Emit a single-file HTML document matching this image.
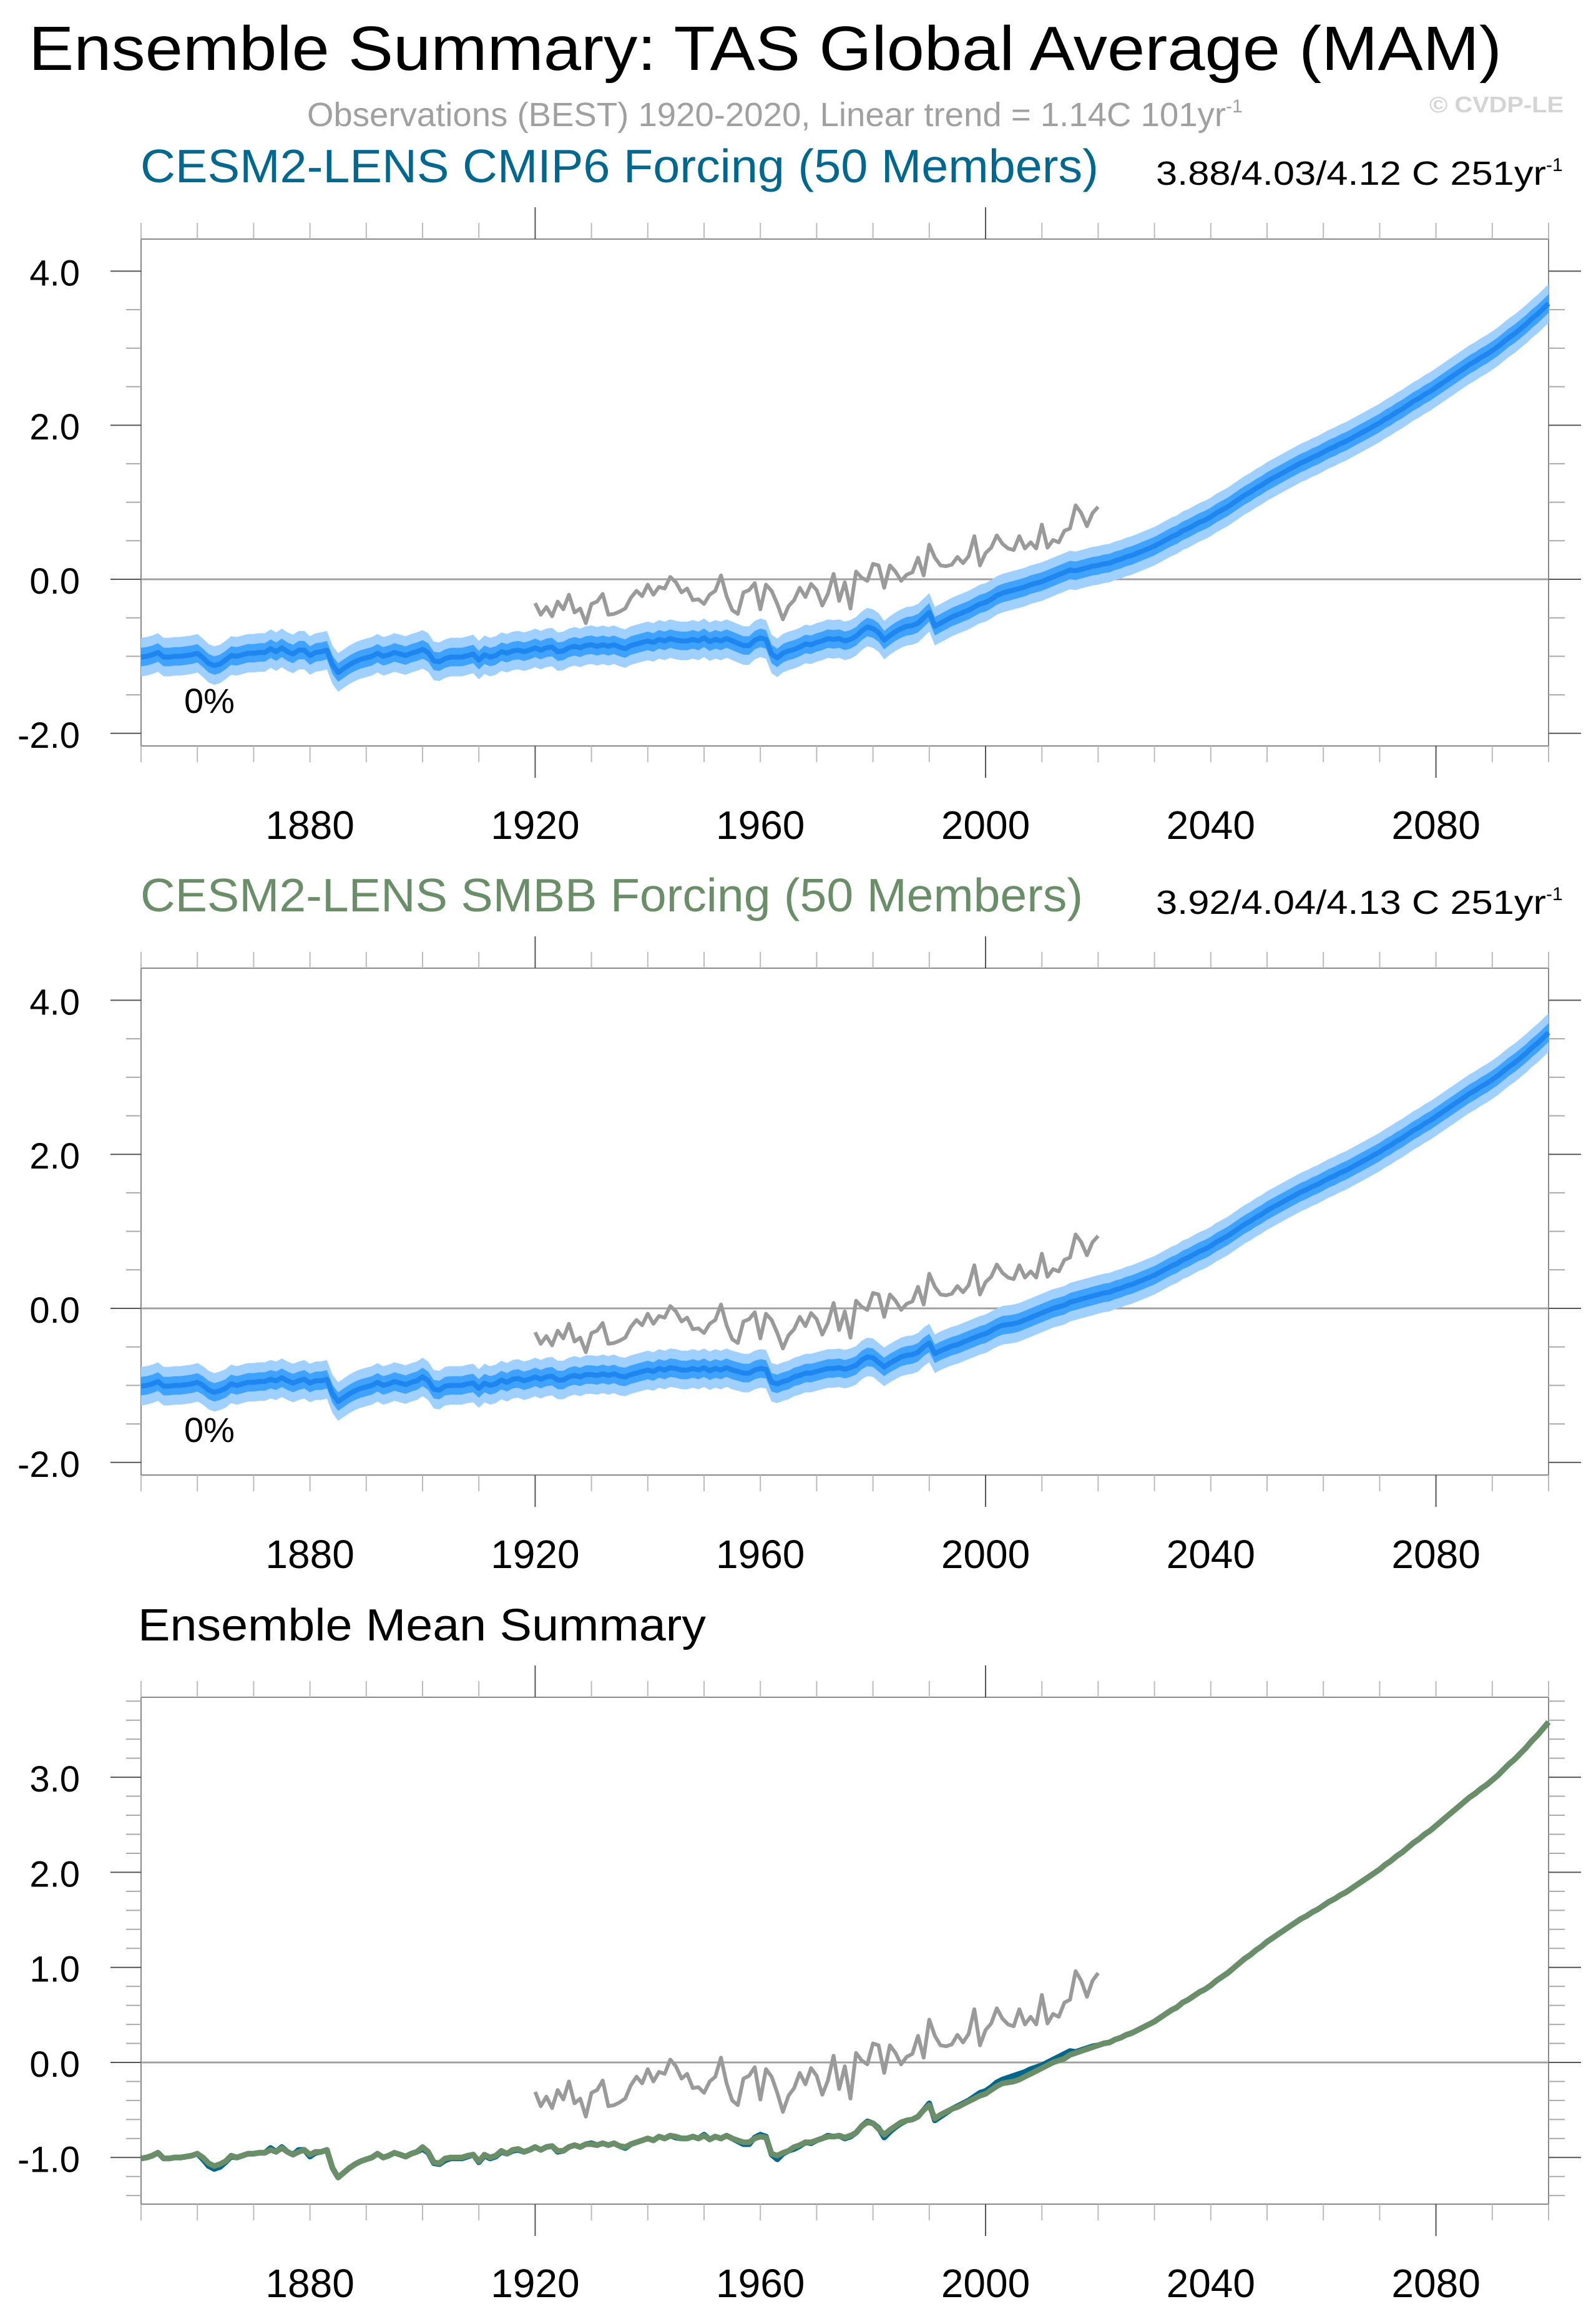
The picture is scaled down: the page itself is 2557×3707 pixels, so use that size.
<!DOCTYPE html>
<html><head><meta charset="utf-8"><style>
html,body{margin:0;padding:0;background:#fff;}
svg{display:block;font-family:"Liberation Sans",sans-serif;}
</style></head><body>
<svg id="chart" xmlns="http://www.w3.org/2000/svg" width="2557" height="3707" viewBox="0 0 2557 3707">
<rect width="2557" height="3707" fill="#fff"/>
<text x="46" y="112" font-size="100" textLength="2360" lengthAdjust="spacingAndGlyphs">Ensemble Summary: TAS Global Average (MAM)</text>
<text x="492" y="202" font-size="54" fill="#a0a0a0"><tspan textLength="1472" lengthAdjust="spacingAndGlyphs">Observations (BEST) 1920-2020, Linear trend = 1.14C 101yr</tspan><tspan font-size="30" dy="-22">-1</tspan></text>
<text x="2290" y="180" font-size="36" font-weight="bold" fill="#d4d4d4" textLength="215" lengthAdjust="spacingAndGlyphs">© CVDP-LE</text>
<g id="plots"></g>
</svg>
<script>
const years = [];
for (let y = 1850; y <= 2100; y++) years.push(y);
const obsYears = [];
for (let y = 1920; y <= 2020; y++) obsYears.push(y);

const cmip6Mean = [-1.01,-1.00,-0.98,-0.95,-1.01,-1.01,-1.00,-1.00,-0.99,-0.98,-0.96,-1.02,-1.09,-1.12,-1.10,-1.05,-0.99,-1.00,-0.98,-0.96,-0.96,-0.95,-0.95,-0.90,-0.94,-0.89,-0.94,-0.97,-0.92,-0.92,-0.99,-0.95,-0.94,-0.92,-1.11,-1.21,-1.16,-1.11,-1.07,-1.04,-1.02,-1.00,-0.96,-1.00,-0.98,-0.95,-0.97,-0.99,-0.96,-0.94,-0.91,-0.95,-1.06,-1.07,-1.03,-1.01,-1.01,-1.01,-0.99,-0.97,-1.05,-0.98,-1.01,-0.99,-0.94,-0.96,-0.93,-0.92,-0.94,-0.92,-0.89,-0.92,-0.89,-0.88,-0.94,-0.93,-0.89,-0.87,-0.89,-0.86,-0.85,-0.87,-0.85,-0.87,-0.85,-0.88,-0.90,-0.86,-0.84,-0.82,-0.80,-0.82,-0.78,-0.80,-0.77,-0.79,-0.80,-0.80,-0.78,-0.80,-0.76,-0.81,-0.78,-0.80,-0.77,-0.80,-0.83,-0.86,-0.86,-0.79,-0.76,-0.78,-0.97,-1.02,-0.96,-0.93,-0.91,-0.88,-0.84,-0.85,-0.82,-0.80,-0.77,-0.78,-0.77,-0.80,-0.78,-0.74,-0.67,-0.62,-0.64,-0.69,-0.79,-0.73,-0.68,-0.64,-0.61,-0.60,-0.57,-0.50,-0.43,-0.61,-0.57,-0.53,-0.49,-0.46,-0.43,-0.40,-0.36,-0.32,-0.30,-0.26,-0.21,-0.18,-0.16,-0.14,-0.12,-0.10,-0.07,-0.05,-0.03,0.00,0.03,0.06,0.09,0.12,0.11,0.13,0.15,0.17,0.18,0.20,0.21,0.24,0.26,0.29,0.31,0.34,0.37,0.40,0.43,0.47,0.51,0.55,0.58,0.63,0.66,0.70,0.74,0.77,0.81,0.86,0.90,0.94,0.99,1.04,1.09,1.13,1.18,1.22,1.27,1.31,1.35,1.39,1.43,1.47,1.51,1.54,1.58,1.61,1.65,1.69,1.72,1.76,1.79,1.83,1.87,1.91,1.95,1.99,2.03,2.08,2.12,2.17,2.21,2.26,2.31,2.35,2.40,2.44,2.49,2.54,2.59,2.64,2.69,2.74,2.79,2.83,2.88,2.92,2.97,3.02,3.08,3.14,3.19,3.25,3.31,3.38,3.44,3.51,3.58];

const smbbMean = [-1.01,-1.00,-0.98,-0.95,-1.01,-1.01,-1.00,-1.00,-0.99,-0.98,-0.96,-1.00,-1.06,-1.09,-1.07,-1.04,-0.98,-1.00,-0.98,-0.96,-0.96,-0.95,-0.95,-0.92,-0.94,-0.90,-0.94,-0.97,-0.94,-0.92,-0.97,-0.94,-0.94,-0.92,-1.11,-1.21,-1.16,-1.11,-1.07,-1.04,-1.02,-1.00,-0.96,-1.00,-0.98,-0.95,-0.97,-0.99,-0.96,-0.94,-0.89,-0.94,-1.05,-1.06,-1.01,-1.00,-1.00,-1.00,-0.98,-0.97,-1.04,-0.97,-1.00,-0.98,-0.93,-0.96,-0.92,-0.91,-0.94,-0.92,-0.89,-0.92,-0.89,-0.88,-0.93,-0.93,-0.89,-0.87,-0.89,-0.86,-0.86,-0.87,-0.85,-0.87,-0.85,-0.88,-0.89,-0.86,-0.84,-0.82,-0.80,-0.82,-0.78,-0.80,-0.77,-0.78,-0.80,-0.80,-0.78,-0.80,-0.77,-0.81,-0.78,-0.80,-0.77,-0.80,-0.82,-0.84,-0.84,-0.80,-0.78,-0.79,-0.96,-0.98,-0.95,-0.93,-0.89,-0.87,-0.84,-0.84,-0.82,-0.80,-0.78,-0.78,-0.77,-0.79,-0.77,-0.74,-0.67,-0.63,-0.64,-0.70,-0.76,-0.71,-0.67,-0.63,-0.61,-0.60,-0.57,-0.50,-0.45,-0.59,-0.55,-0.52,-0.49,-0.47,-0.44,-0.41,-0.38,-0.35,-0.33,-0.29,-0.25,-0.22,-0.21,-0.20,-0.18,-0.15,-0.12,-0.09,-0.06,-0.03,0.00,0.02,0.04,0.08,0.10,0.12,0.14,0.16,0.18,0.20,0.21,0.24,0.26,0.29,0.31,0.34,0.37,0.40,0.43,0.47,0.51,0.55,0.58,0.63,0.66,0.70,0.74,0.77,0.81,0.86,0.90,0.94,0.99,1.04,1.09,1.13,1.18,1.22,1.27,1.31,1.35,1.39,1.43,1.47,1.51,1.54,1.58,1.61,1.65,1.69,1.72,1.76,1.79,1.83,1.87,1.91,1.95,1.99,2.03,2.08,2.12,2.17,2.21,2.26,2.31,2.35,2.40,2.44,2.49,2.54,2.59,2.64,2.69,2.74,2.79,2.83,2.88,2.92,2.97,3.02,3.08,3.14,3.19,3.25,3.31,3.38,3.44,3.51,3.58];

const obsValues = [-0.31,-0.46,-0.36,-0.48,-0.29,-0.39,-0.20,-0.43,-0.38,-0.57,-0.32,-0.29,-0.19,-0.46,-0.45,-0.42,-0.38,-0.24,-0.15,-0.22,-0.07,-0.20,-0.10,-0.12,0.03,-0.04,-0.17,-0.12,-0.27,-0.26,-0.32,-0.20,-0.15,0.05,-0.22,-0.40,-0.45,-0.17,-0.14,-0.05,-0.39,-0.07,-0.15,-0.32,-0.52,-0.35,-0.27,-0.11,-0.23,-0.06,-0.14,-0.34,-0.19,0.07,-0.28,-0.04,-0.38,0.10,0.02,-0.02,0.20,0.18,-0.11,0.18,0.10,-0.02,0.06,0.09,0.28,0.05,0.45,0.28,0.18,0.17,0.19,0.29,0.21,0.30,0.56,0.18,0.34,0.41,0.57,0.46,0.40,0.38,0.56,0.40,0.48,0.40,0.71,0.41,0.51,0.48,0.63,0.66,0.96,0.86,0.69,0.86,0.94];

const innerSpread = 0.12;
const outerSpread = 0.25;
const xTickLabels = [1880, 1920, 1960, 2000, 2040, 2080];
const yTicksTop = [4.0, 2.0, 0.0, -2.0];
const yTicksBottom = [3.0, 2.0, 1.0, 0.0, -1.0];

const NS = 'http://www.w3.org/2000/svg';
const root = document.getElementById('plots');
const X0 = 226, X1 = 2481;
function xScale(yr){ return X0 + (yr - 1850) * (X1 - X0) / 250; }
function mk(tag, attrs, parent){
  const e = document.createElementNS(NS, tag);
  for (const k in attrs) e.setAttribute(k, attrs[k]);
  (parent || root).appendChild(e);
  return e;
}
function linePath(xs, vs, ys){
  return xs.map((x,i)=>(i?'L':'M')+xScale(x).toFixed(1)+','+ys(vs[i]).toFixed(1)).join('');
}
function bandPath(xs, vs, d, ys){
  let p = xs.map((x,i)=>(i?'L':'M')+xScale(x).toFixed(1)+','+ys(vs[i]+d).toFixed(1)).join('');
  for (let i = xs.length-1; i >= 0; i--) p += 'L'+xScale(xs[i]).toFixed(1)+','+ys(vs[i]-d).toFixed(1);
  return p + 'Z';
}

function panel(idx, cfg){
  const off = idx * 1168;
  const top = 383 + off, bot = 1195 + off;
  const g = mk('g', {}, root);
  
  
  const ys = v => cfg.zero + off - v * cfg.unit;

  const t = mk('text', {x: cfg.titleX, y: cfg.titleY + off, 'font-size': cfg.titleSize, fill: cfg.titleColor, textLength: cfg.titleLen, lengthAdjust: 'spacingAndGlyphs'}, g);
  t.textContent = cfg.title;
  
  
  if (cfg.rightText){
    const r = mk('text', {x: 1852, y: 296 + off, 'font-size': 54}, g);
    
    
    const s1 = mk('tspan', {textLength: 625, lengthAdjust: 'spacingAndGlyphs'}, r);
    s1.textContent = cfg.rightText;
    const s2 = mk('tspan', {'font-size': 30, dy: -22}, r);
    s2.textContent = '-1';
  }

  const fr = mk('rect', {x: X0, y: top, width: X1 - X0, height: bot - top, fill: 'none', stroke: '#8a8a8a', 'stroke-width': 2}, g);
  
  

  for (let yr = 1850; yr <= 2100; yr += 10){
    const x = xScale(yr);
    const majTop = (yr === 1920 || yr === 2000);
    const majBot = (yr === 1920 || yr === 2000 || yr === 2080);
    mk('line', {x1: x, x2: x, y1: top, y2: majTop ? top - 51 : top - 26, stroke: majTop ? '#555' : '#bbb', 'stroke-width': 2}, g);
    mk('line', {x1: x, x2: x, y1: bot, y2: majBot ? bot + 51 : bot + 26, stroke: majBot ? '#555' : '#bbb', 'stroke-width': 2}, g);
  }
  xTickLabels.forEach(yr=>{
    const l = mk('text', {x: xScale(yr), y: 1344 + off, 'font-size': 64, 'text-anchor': 'middle'}, g);
    l.textContent = String(yr);
    
    
  });

  const vTop = (cfg.zero + off - top) / cfg.unit, vBot = (cfg.zero + off - bot) / cfg.unit;
  const steps = Math.round((vTop - vBot) / cfg.minor) + 2;
  const start = Math.ceil(vBot / cfg.minor) * cfg.minor;
  for (let i = 0; i < steps; i++){
    const v = +(start + i * cfg.minor).toFixed(3);
    if (v > vTop + 1e-6) break;
    const y = ys(v);
    const isMaj = cfg.ticks.some(m => Math.abs(m - v) < 1e-6);
    mk('line', {x1: X0, x2: isMaj ? X0 - 49 : X0 - 24, y1: y, y2: y, stroke: isMaj ? '#555' : '#aaa', 'stroke-width': 2}, g);
    mk('line', {x1: X1, x2: isMaj ? X1 + 52 : X1 + 26, y1: y, y2: y, stroke: isMaj ? '#555' : '#aaa', 'stroke-width': 2}, g);
  }
  cfg.ticks.forEach(v=>{
    const l = mk('text', {x: 128, y: ys(v) + 23, 'font-size': 58, 'text-anchor': 'end'}, g);
    l.textContent = v.toFixed(1);
    
    
  });

  const z = mk('line', {x1: X0, x2: X1, y1: ys(0), y2: ys(0), stroke: '#a0a0a0', 'stroke-width': 3}, g);
  
  

  if (cfg.mean){
    const ob = mk('path', {d: bandPath(years, cfg.mean, outerSpread, ys), fill: '#9fd0ff'}, g);
    
    
    const ib = mk('path', {d: bandPath(years, cfg.mean, innerSpread, ys), fill: '#3fa2ff'}, g);
    
    
    const ml = mk('path', {d: linePath(years, cfg.mean, ys), fill: 'none', stroke: '#1e86ee', 'stroke-width': 8, 'stroke-linejoin': 'round'}, g);
    
    
    const pc = mk('text', {x: 295, y: 1142 + off, 'font-size': 56}, g);
    pc.textContent = '0%';
    
    
  } else {
    const l1 = mk('path', {d: linePath(years, cmip6Mean, ys), fill: 'none', stroke: '#00668c', 'stroke-width': 9, 'stroke-linejoin': 'round'}, g);
    
    
    const l2 = mk('path', {d: linePath(years, smbbMean, ys), fill: 'none', stroke: '#6a8e68', 'stroke-width': 9, 'stroke-linejoin': 'round'}, g);
    
    
  }
  const obs = mk('path', {d: linePath(obsYears, obsValues, ys), fill: 'none', stroke: '#9a9a9a', 'stroke-width': 6, 'stroke-linejoin': 'round'}, g);
  
  
}

panel(0, {name: 'cmip6-panel', title: 'CESM2-LENS CMIP6 Forcing (50 Members)', titleColor: '#00688e', titleX: 225, titleY: 292, titleSize: 75, titleLen: 1535,
  rightText: '3.88/4.03/4.12 C 251yr', zero: 928, unit: 123.4, minor: 0.5, ticks: yTicksTop, mean: cmip6Mean});
panel(1, {name: 'smbb-panel', title: 'CESM2-LENS SMBB Forcing (50 Members)', titleColor: '#6a8e68', titleX: 225, titleY: 292, titleSize: 75, titleLen: 1510,
  rightText: '3.92/4.04/4.13 C 251yr', zero: 928, unit: 123.4, minor: 0.5, ticks: yTicksTop, mean: smbbMean});
panel(2, {name: 'ensemble-mean-panel', title: 'Ensemble Mean Summary', titleColor: '#000', titleX: 221, titleY: 292, titleSize: 72, titleLen: 910,
  zero: 3304 - 2336, unit: 152.3, minor: 0.2, ticks: yTicksBottom, mean: null});
</script>
</body></html>
